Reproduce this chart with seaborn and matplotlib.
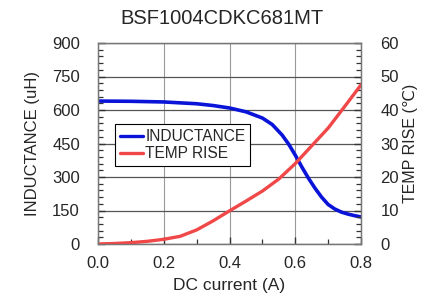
import matplotlib
matplotlib.use("Agg")
import matplotlib.pyplot as plt
import seaborn as sns
import pandas as pd
from matplotlib.ticker import MultipleLocator, AutoMinorLocator
from matplotlib.lines import Line2D

# values
current_l = [0.0, 0.1, 0.2, 0.3, 0.35, 0.4, 0.45, 0.5, 0.53, 0.56, 0.58, 0.6, 0.62,
             0.64, 0.66, 0.68, 0.7, 0.72, 0.74, 0.76, 0.78, 0.8]
inductance = [640, 639, 636, 628, 620, 609, 592, 564, 535, 488, 447, 398, 345,
              295, 250, 210, 177, 157, 143, 134, 127, 121]
current_t = [0.0, 0.05, 0.1, 0.15, 0.2, 0.25, 0.3, 0.35, 0.4, 0.45, 0.5, 0.55, 0.6,
             0.65, 0.7, 0.75, 0.8]
temp_rise = [0.0, 0.15, 0.4, 0.8, 1.4, 2.3, 4.2, 6.9, 9.9, 12.8, 15.8, 19.4, 24.0,
             29.3, 34.6, 41.0, 47.5]

sns.set_style("white")
plt.rcParams['font.family'] = ['Liberation Sans', 'DejaVu Sans']

df_l = pd.DataFrame({"x": current_l, "y": inductance})
df_t = pd.DataFrame({"x": current_t, "y": temp_rise})

blue = "#0a14d8"
red = "#f04848"

fig = plt.figure(figsize=(4.34, 3.0), dpi=100)
ax = fig.add_axes([98/434, 1 - 244/300, (361-98)/434, (244-43)/300])
ax2 = ax.twinx()

sns.lineplot(data=df_l, x="x", y="y", ax=ax, color=blue, lw=2.6, legend=False)
sns.lineplot(data=df_t, x="x", y="y", ax=ax2, color=red, lw=2.4, legend=False)

ax.set_xlim(0, 0.8)
ax.set_ylim(0, 900)
ax2.set_ylim(0, 60)
ax.set_xticks([0, 0.2, 0.4, 0.6, 0.8])
ax.set_xticklabels(["0.0", "0.2", "0.4", "0.6", "0.8"])
ax.xaxis.set_minor_locator(MultipleLocator(0.1))
ax.yaxis.set_major_locator(MultipleLocator(150))
ax.yaxis.set_minor_locator(AutoMinorLocator(5))
ax2.yaxis.set_major_locator(MultipleLocator(10))
ax2.yaxis.set_minor_locator(AutoMinorLocator(5))

ax.grid(True, which="major", axis="y", color="#555555", lw=0.9)
ax.grid(True, which="major", axis="x", color="#999999", lw=0.8)
ax.set_axisbelow(True)

for a in (ax, ax2):
    for s in a.spines.values():
        s.set_color("#777777")
        s.set_linewidth(0.9)
    a.tick_params(which="both", direction="in", labelsize=12, color="#333333")
    a.tick_params(which="major", length=5, width=1.0)
    a.tick_params(which="minor", length=3.5, width=0.9)
ax.tick_params(axis="x", which="both", bottom=True, pad=9)
ax.tick_params(axis="y", which="both", left=True, pad=13)
ax2.tick_params(axis="y", which="both", right=True, pad=14)

ax.set_xlabel("DC current (A)", fontsize=12.5, labelpad=5)
ax.set_ylabel("INDUCTANCE (uH)", fontsize=12, labelpad=9)
ax2.set_ylabel("TEMP RISE (℃)", fontsize=11.5, labelpad=3)
ax.set_title("BSF1004CDKC681MT", fontsize=14.5, pad=14, x=0.47)

handles = [Line2D([], [], color=blue, lw=2.4), Line2D([], [], color=red, lw=2.4)]
leg = ax2.legend(handles, ["INDUCTANCE", "TEMP RISE"], loc="upper left",
                 bbox_to_anchor=(0.065, 0.595), fontsize=11.2, frameon=True, fancybox=False,
                 handlelength=1.5, handletextpad=0.15, borderpad=0.3, labelspacing=0.15,
                 borderaxespad=0, framealpha=1)
leg.get_frame().set_edgecolor("black")
leg.get_frame().set_linewidth(0.8)

fig.savefig("out.png", dpi=100)
